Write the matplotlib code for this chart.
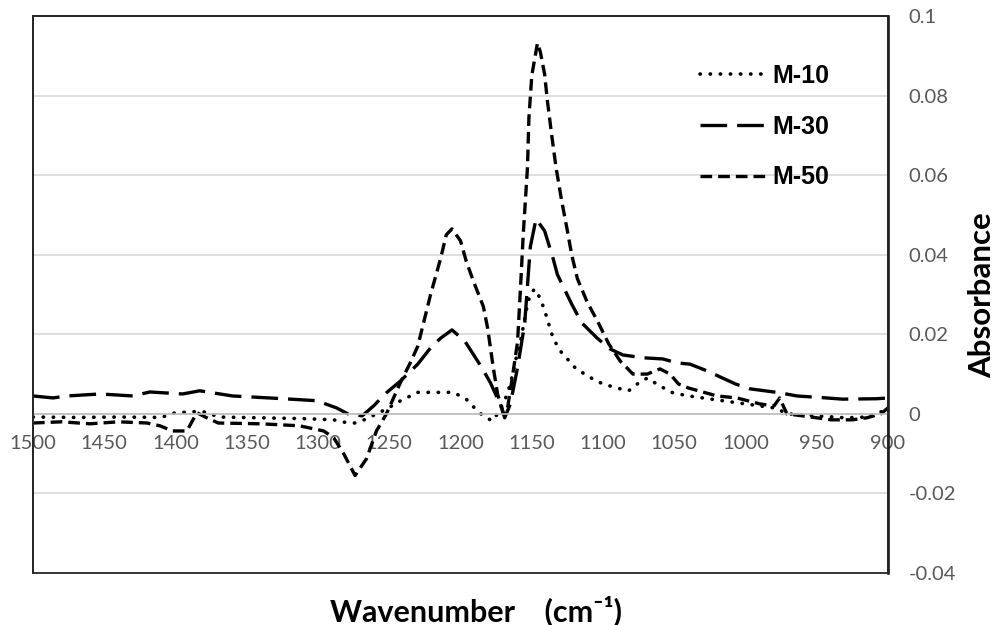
import matplotlib
matplotlib.use("Agg")
import matplotlib.pyplot as plt
from matplotlib.patches import Rectangle
import numpy as np

# M-10: vlnocty a absorbance
wn_m10 = [1500, 1470, 1440, 1410, 1400, 1392, 1385, 1378, 1370, 1340, 1310,
          1289, 1280, 1274, 1266, 1259, 1252, 1242, 1230, 1219, 1205, 1196,
          1187, 1180, 1178, 1174, 1169, 1165, 1162, 1158, 1153, 1151, 1148,
          1144, 1141, 1135, 1130, 1125, 1121, 1111, 1100, 1088, 1082, 1076,
          1069, 1060, 1051, 1040, 1020, 1000, 980, 970, 950, 930, 915, 905, 900]
ab_m10 = [-0.0008, -0.0009, -0.0008, -0.0009, 0.0003, 0.0004, 0.0006, 0.0004,
          -0.0008, -0.0010, -0.0012, -0.0015, -0.0022, -0.0023, -0.0013, 0.0,
          0.0012, 0.0033, 0.0054, 0.0054, 0.0054, 0.0037, 0.0003, -0.0013,
          -0.0018, 0.0, 0.0033, 0.0075, 0.0126, 0.018, 0.0276, 0.030, 0.0314,
          0.029, 0.026, 0.019, 0.0158, 0.0138, 0.012, 0.0095, 0.0075, 0.0063,
          0.0058, 0.0075, 0.009, 0.007, 0.0053, 0.0045, 0.0035, 0.0025,
          0.0015, 0.0, -0.0005, -0.001, -0.0008, 0.0005, 0.0012]

# M-30
wn_m30 = [1500, 1486, 1476, 1453, 1430, 1418, 1395, 1383, 1360, 1324, 1301,
          1287, 1279, 1269, 1261, 1252, 1242, 1230, 1221, 1214, 1206, 1197,
          1185, 1179, 1171, 1169, 1165, 1160, 1155, 1151, 1147, 1141, 1135,
          1132, 1122, 1115, 1104, 1095, 1086, 1072, 1058, 1048, 1039, 1027,
          1007, 997, 976, 964, 943, 932, 908, 900]
ab_m30 = [0.0045, 0.004, 0.0045, 0.005, 0.0045, 0.0055, 0.005, 0.0058, 0.0045,
          0.0038, 0.0033, 0.0015, 0.0, -0.0005, 0.002, 0.0053, 0.0083, 0.0125,
          0.0166, 0.019, 0.0211, 0.0183, 0.0116, 0.0078, 0.0015, -0.001,
          0.0025, 0.0116, 0.0226, 0.042, 0.049, 0.046, 0.039, 0.035, 0.0276,
          0.0229, 0.019, 0.0163, 0.0148, 0.0141, 0.0138, 0.0128, 0.0125,
          0.0108, 0.0075, 0.0063, 0.0053, 0.0045, 0.004, 0.0037, 0.0038, 0.004]

# M-50
wn_m50 = [1500, 1480, 1460, 1440, 1420, 1411, 1402, 1392, 1385, 1378, 1370,
          1340, 1313, 1296, 1289, 1282, 1274, 1266, 1259, 1252, 1242, 1235,
          1230, 1221, 1214, 1210, 1206, 1200, 1196, 1191, 1184, 1181, 1177,
          1174, 1170, 1167, 1164, 1160, 1158, 1156, 1153, 1152, 1150, 1146,
          1144, 1141, 1139, 1136, 1133, 1129, 1125, 1122, 1118, 1111, 1104,
          1096, 1088, 1079, 1069, 1060, 1053, 1047, 1040, 1030, 1020, 1006,
          990, 980, 976, 971, 960, 950, 940, 925, 915, 905, 900]
ab_m50 = [-0.0023, -0.0020, -0.0025, -0.0020, -0.0023, -0.0030, -0.0043,
          -0.0043, 0.0003, -0.0010, -0.0023, -0.0025, -0.0030, -0.0043,
          -0.006, -0.010, -0.0155, -0.0113, -0.0043, 0.0, 0.008, 0.013, 0.017,
          0.030, 0.039, 0.045, 0.0465, 0.0435, 0.0384, 0.0334, 0.027, 0.0216,
          0.0116, 0.005, 0.0, 0.0015, 0.0083, 0.018, 0.031, 0.045, 0.062,
          0.0744, 0.085, 0.0932, 0.091, 0.0854, 0.0786, 0.070, 0.062, 0.0535,
          0.046, 0.040, 0.034, 0.028, 0.0234, 0.0176, 0.0133, 0.010, 0.010,
          0.0113, 0.010, 0.0075, 0.0065, 0.0055, 0.0045, 0.004, 0.0025, 0.002,
          0.004, 0.0, -0.0005, -0.001, -0.0015, -0.0015, -0.001, 0.0, 0.0015]

fig = plt.figure(figsize=(9.97, 6.25), dpi=100)
ax = fig.add_axes([0.0331, 0.0832, 0.8576, 0.8912])

# styly car
ax.plot(wn_m10, ab_m10, color="black", lw=2.6, linestyle=(0, (0.1, 2.7)),
        dash_capstyle="round", label="M-10")
ax.plot(wn_m30, ab_m30, color="black", lw=2.4, linestyle=(0, (8, 3)),
        label="M-30")
ax.plot(wn_m50, ab_m50, color="black", lw=2.4, linestyle=(0, (3.5, 1.8)),
        label="M-50")

# rozsahy os
ax.set_xlim(1500, 900)
ax.set_ylim(-0.04, 0.1)
ax.set_xticks(np.arange(1500, 899, -50))
ax.set_yticks(np.arange(-0.04, 0.1001, 0.02))
ax.set_yticklabels(["-0.04", "-0.02", "0", "0.02", "0.04", "0.06", "0.08", "0.1"])

# mrizka
ax.grid(True, axis="y", color="#d9d9d9", lw=1.2)
ax.set_axisbelow(True)

# osa x prochazi nulou
ax.spines["bottom"].set_position(("data", 0))
ax.spines["bottom"].set_color("#bfbfbf")
ax.spines["bottom"].set_linewidth(1.2)
for s in ["left", "top"]:
    ax.spines[s].set_color("#262626")
    ax.spines[s].set_linewidth(1.3)
ax.spines["right"].set_color("black")
ax.spines["right"].set_linewidth(1.8)
ax.add_patch(Rectangle((0, 0), 1, 1, transform=ax.transAxes, fill=False,
                       ec="#262626", lw=1.3, clip_on=False, zorder=5))

ax.yaxis.tick_right()
ax.tick_params(axis="both", length=0, labelsize=14.5, labelcolor="#595959")
ax.tick_params(axis="x", pad=15)
ax.tick_params(axis="y", pad=15)
for lbl in ax.get_xticklabels() + ax.get_yticklabels():
    lbl.set_family("Lato")

# popisky os
fig.text(982 / 997, 1 - 295 / 625, "Absorbance", rotation=90,
         fontsize=22.5, fontweight="bold", family="Lato",
         ha="center", va="center")
fig.text(476 / 997, 1 - 611 / 625, "Wavenumber    (cm\u207b\u00b9)",
         fontsize=22, fontweight="bold", family=["Lato", "DejaVu Sans"],
         ha="center", va="center")

# legenda
leg = ax.legend(loc="upper left", frameon=False, handlelength=2.6,
                handletextpad=0.28, labelspacing=1.07, borderpad=0,
                borderaxespad=0, bbox_to_anchor=(700 / 997, 1 - 64 / 625),
                bbox_transform=fig.transFigure,
                prop={"family": "Liberation Sans", "weight": "bold", "size": 18})

fig.savefig("out.png", dpi=100)
